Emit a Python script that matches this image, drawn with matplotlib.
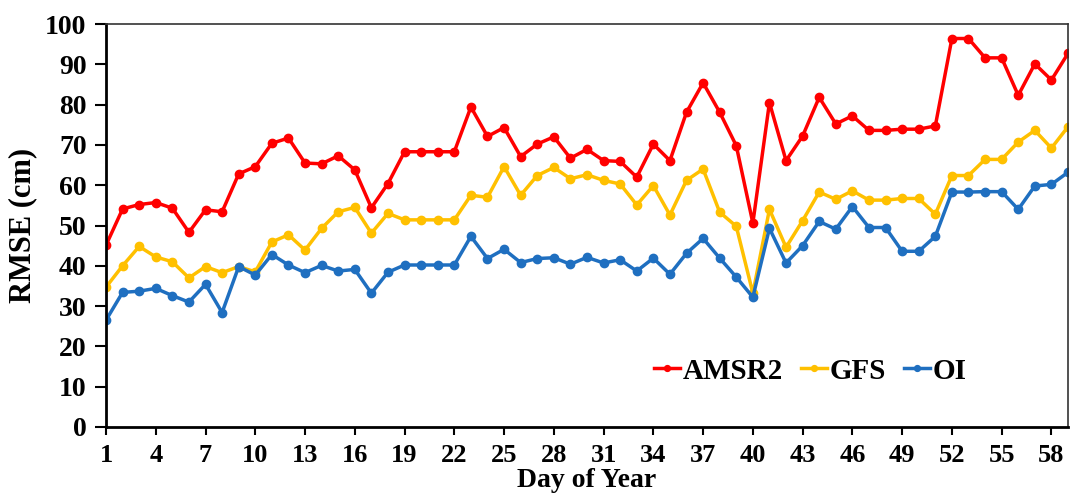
import matplotlib
matplotlib.use("Agg")
import matplotlib.pyplot as plt
import numpy as np

# RMSE (cm) per day
days = np.arange(1, 60)
amsr2 = [45.1, 54.1, 55.2, 55.7, 54.3, 48.3, 53.9, 53.4, 62.8, 64.6,
         70.4, 71.7, 65.5, 65.3, 67.3, 63.8, 54.4, 60.4, 68.3, 68.3,
         68.3, 68.3, 79.4, 72.1, 74.3, 67.1, 70.2, 72.0, 66.7, 68.9,
         66.1, 65.9, 62.0, 70.2, 66.1, 78.1, 85.4, 78.1, 69.8, 50.6,
         80.5, 66.1, 72.2, 81.8, 75.2, 77.2, 73.6, 73.6, 73.9, 73.9,
         74.7, 96.4, 96.4, 91.6, 91.6, 82.3, 90.1, 86.1, 92.7]
gfs = [34.7, 40.0, 44.8, 42.2, 41.0, 37.0, 39.8, 38.3, 39.8, 38.5,
       45.9, 47.7, 43.9, 49.3, 53.4, 54.5, 48.1, 53.0, 51.4, 51.4,
       51.4, 51.4, 57.5, 57.0, 64.6, 57.5, 62.4, 64.4, 61.6, 62.6,
       61.2, 60.3, 55.1, 59.9, 52.6, 61.2, 64.0, 53.3, 49.8, 33.2,
       54.0, 44.6, 51.2, 58.3, 56.5, 58.6, 56.3, 56.3, 56.7, 56.7,
       52.8, 62.4, 62.4, 66.4, 66.4, 70.7, 73.6, 69.2, 74.5]
oi = [26.5, 33.4, 33.7, 34.4, 32.6, 31.0, 35.4, 28.4, 39.8, 37.7,
      42.8, 40.2, 38.3, 40.1, 38.7, 39.1, 33.2, 38.4, 40.2, 40.2,
      40.2, 40.2, 47.3, 41.8, 44.1, 40.8, 41.8, 42.0, 40.4, 42.1,
      40.7, 41.5, 38.7, 41.9, 37.9, 43.1, 46.8, 41.9, 37.2, 32.2,
      49.3, 40.7, 45.0, 51.0, 49.1, 54.7, 49.5, 49.5, 43.6, 43.6,
      47.3, 58.3, 58.3, 58.4, 58.4, 54.0, 59.8, 60.2, 63.2]
xticks = list(range(1, 59, 3))
yticks = list(range(0, 101, 10))

plt.rcParams['font.family'] = ['Liberation Serif', 'DejaVu Serif']
plt.rcParams['font.weight'] = 'bold'

fig = plt.figure(figsize=(10.7, 5.0), dpi=100)
ax = fig.add_axes([106 / 1070, 1 - 427 / 500, 962 / 1070, 403 / 500])

ax.plot(days, amsr2, color='#FF0000', lw=2.5, marker='o', ms=6, label='AMSR2')
ax.plot(days, gfs, color='#FFC000', lw=2.5, marker='o', ms=6, label='GFS')
ax.plot(days, oi, color='#1F6FC0', lw=2.5, marker='o', ms=6, label='OI')

ax.set_xlim(1, 59)
ax.set_ylim(0, 100)
ax.set_xticks(xticks)
ax.set_yticks(yticks)
ax.tick_params(axis='both', direction='out', labelsize=20, width=1.5)
ax.tick_params(axis='y', length=8, pad=6)
ax.tick_params(axis='x', length=6, pad=6, labelsize=19)
for lab in ax.get_xticklabels() + ax.get_yticklabels():
    lab.set_fontweight('bold')

for s in ['left', 'bottom']:
    ax.spines[s].set_linewidth(2)
for s in ['top', 'right']:
    ax.spines[s].set_linewidth(1.2)
    ax.spines[s].set_color('#333333')

ax.set_xlabel('Day of Year', fontsize=20, fontweight='bold', labelpad=1)
ax.set_ylabel('RMSE (cm)', fontsize=22, fontweight='bold', labelpad=6)

ax.legend(loc='lower right', bbox_to_anchor=(0.922, 0.04), ncol=3, frameon=False,
          prop={'size': 21, 'weight': 'bold'}, handlelength=0.9,
          handletextpad=0.1, columnspacing=0.6, markerscale=0.7)

fig.savefig('out.png', dpi=100)
